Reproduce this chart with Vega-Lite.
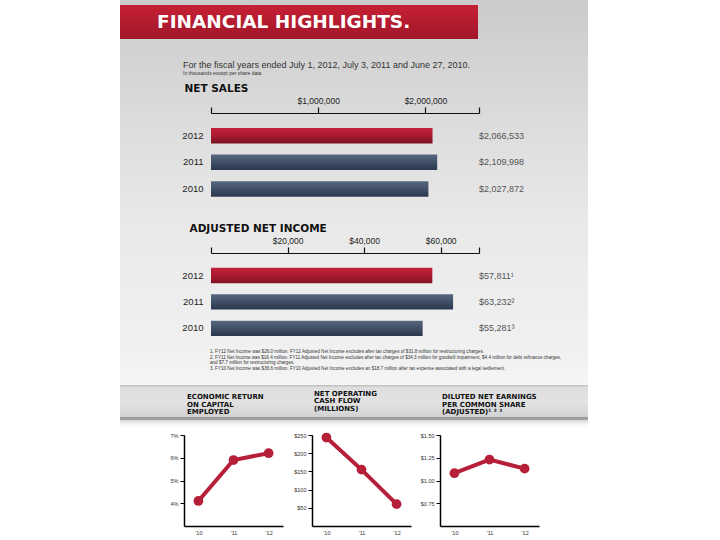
{
  "$schema": "https://vega.github.io/schema/vega-lite/v6.json",
  "background": "white",
  "padding": {"left": 120, "top": 0, "right": 132, "bottom": 4},
  "autosize": {"type": "pad"},
  "config": {
    "view": {"stroke": null},
    "font": "Liberation Sans",
    "axis": {"grid": false},
    "title": {"font": "Liberation Sans"}
  },
  "datasets": {
    "banner": [{"t": "FINANCIAL HIGHLIGHTS."}],
    "sales": [
      {"year": "2012", "value": 2066533},
      {"year": "2011", "value": 2109998},
      {"year": "2010", "value": 2027872}
    ],
    "income": [
      {"year": "2012", "value": 57811, "label": "$57,811¹"},
      {"year": "2011", "value": 63232, "label": "$63,232²"},
      {"year": "2010", "value": 55281, "label": "$55,281³"}
    ],
    "eroce": [
      {"year": "'10", "v": 4.1},
      {"year": "'11", "v": 5.9},
      {"year": "'12", "v": 6.2}
    ],
    "cash": [
      {"year": "'10", "v": 243},
      {"year": "'11", "v": 155},
      {"year": "'12", "v": 60}
    ],
    "eps": [
      {"year": "'10", "v": 1.08},
      {"year": "'11", "v": 1.23},
      {"year": "'12", "v": 1.13}
    ],
    "blank": [{"k": 1}]
  },
  "vconcat": [
    {
      "width": 468,
      "height": 79,
      "view": {"stroke": null, "fill": {"expr": "{gradient:'linear',x1:0,y1:0,x2:0,y2:1,stops:[{offset:0,color:'#cbcbcb'},{offset:1,color:'#d6d6d6'}]}"}},
      "data": {"name": "banner"},
      "title": {
        "text": "For the fiscal years ended July 1, 2012, July 3, 2011 and June 27, 2010.",
        "subtitle": "In thousands except per share data",
        "orient": "bottom",
        "anchor": "start",
        "frame": "group",
        "offset": -18,
        "dx": 63,
        "fontSize": 9,
        "fontWeight": "normal",
        "color": "#333333",
        "subtitleFont": "Liberation Sans",
        "subtitleFontSize": 5,
        "subtitleColor": "#333333",
        "subtitlePadding": 1
      },
      "layer": [
        {
          "mark": {"type": "rect", "color": {"gradient": "linear", "x1": 0, "y1": 0, "x2": 0, "y2": 1, "stops": [{"offset": 0, "color": "#c62034"}, {"offset": 1, "color": "#a1172a"}]}},
          "encoding": {
            "x": {"field": "t", "type": "nominal", "scale": {"range": [0, 358], "paddingInner": 0, "paddingOuter": 0}, "axis": null},
            "y": {"field": "t", "type": "nominal", "scale": {"range": [5, 39], "paddingInner": 0, "paddingOuter": 0}, "axis": null}
          }
        },
        {
          "mark": {"type": "text", "align": "left", "baseline": "middle", "dx": 37, "color": "white", "font": "DejaVu Sans", "fontSize": 18.5, "fontWeight": "bold"},
          "encoding": {
            "x": {"field": "t", "type": "nominal", "bandPosition": 0},
            "y": {"field": "t", "type": "nominal"},
            "text": {"field": "t"}
          }
        }
      ]
    },
    {
      "width": 468,
      "height": 133,
      "view": {"stroke": null, "fill": {"expr": "{gradient:'linear',x1:0,y1:0,x2:0,y2:1,stops:[{offset:0,color:'#d6d6d6'},{offset:1,color:'#e8e8e8'}]}"}},
      "data": {"name": "sales"},
      "layer": [
        {
          "transform": [{"filter": "datum.year == '2012'"}],
          "mark": {"type": "bar", "color": {"gradient": "linear", "x1": 0, "y1": 0, "x2": 0, "y2": 1, "stops": [{"offset": 0, "color": "#c4203a"}, {"offset": 0.5, "color": "#a81a30"}, {"offset": 1, "color": "#7c1222"}]}},
          "encoding": {
            "x": {
              "field": "value", "type": "quantitative",
              "scale": {"domain": [0, 2500000], "range": [91, 359], "nice": false},
              "axis": {
                "orient": "top", "offset": -34,
                "values": [0, 1000000, 2000000, 2500000],
                "labelExpr": "datum.value == 0 || datum.value == 2500000 ? '' : '$' + format(datum.value, ',')",
                "tickSize": 6, "tickColor": "#111111", "tickWidth": 1.2,
                "domainColor": "#111111", "domainWidth": 1.2,
                "labelFont": "Liberation Sans", "labelFontSize": 8.5, "labelColor": "#222222", "labelPadding": 2,
                "labelFlush": false, "labelOverlap": false,
                "title": "NET SALES", "titleX": 64, "titleY": -22, "titleAlign": "left", "titleBaseline": "alphabetic", "titleAngle": 0,
                "titleFont": "DejaVu Sans", "titleFontSize": 10.5, "titleFontWeight": "bold", "titleColor": "#111111"
              }
            },
            "y": {
              "field": "year", "type": "nominal",
              "scale": {"domain": ["2012", "2011", "2010"], "range": [43.3, 123.4], "paddingInner": 0.42, "paddingOuter": 0.21},
              "axis": {"orient": "left", "offset": -85, "ticks": false, "domain": false, "labelPadding": 2, "labelFont": "Liberation Sans", "labelFontSize": 9.5, "labelColor": "#222222", "title": null}
            }
          }
        },
        {
          "transform": [{"filter": "datum.year != '2012'"}],
          "mark": {"type": "bar", "color": {"gradient": "linear", "x1": 0, "y1": 0, "x2": 0, "y2": 1, "stops": [{"offset": 0, "color": "#56677f"}, {"offset": 1, "color": "#2a374d"}]}},
          "encoding": {
            "x": {"field": "value", "type": "quantitative"},
            "y": {"field": "year", "type": "nominal"}
          }
        },
        {
          "mark": {"type": "text", "align": "left", "baseline": "middle", "fontSize": 9, "color": "#555555"},
          "encoding": {
            "x": {"datum": 2500000, "type": "quantitative"},
            "y": {"field": "year", "type": "nominal"},
            "text": {"field": "value", "type": "quantitative", "format": "$,"}
          }
        }
      ]
    },
    {
      "width": 468,
      "height": 173,
      "view": {"stroke": null, "fill": {"expr": "{gradient:'linear',x1:0,y1:0,x2:0,y2:1,stops:[{offset:0,color:'#e8e8e8'},{offset:0.9,color:'#f2f2f2'},{offset:1,color:'#f6f6f6'}]}"}},
      "data": {"name": "income"},
      "title": {
        "text": [
          "1.    FY12 Net Income was $26.0 million. FY12 Adjusted Net Income excludes after tax charges of $31.8 million for restructuring charges.",
          "2.    FY11 Net Income was $16.4 million. FY11 Adjusted Net Income excludes after tax charges of $34.3 million for goodwill impairment, $4.4 million for debt refinance charges,",
          "       and $7.7 million for restructuring charges.",
          "3.    FY10 Net Income was $36.6 million. FY10 Adjusted Net Income excludes an $18.7 million after tax expense associated with a legal settlement."
        ],
        "orient": "bottom",
        "anchor": "start",
        "frame": "group",
        "offset": -36,
        "dx": 90,
        "fontSize": 4.6,
        "fontWeight": "normal",
        "color": "#333333",
        "lineHeight": 5.6
      },
      "layer": [
        {
          "transform": [{"filter": "datum.year == '2012'"}],
          "mark": {"type": "bar", "color": {"gradient": "linear", "x1": 0, "y1": 0, "x2": 0, "y2": 1, "stops": [{"offset": 0, "color": "#c4203a"}, {"offset": 0.5, "color": "#a81a30"}, {"offset": 1, "color": "#7c1222"}]}},
          "encoding": {
            "x": {
              "field": "value", "type": "quantitative",
              "scale": {"domain": [0, 70000], "range": [91, 359], "nice": false},
              "axis": {
                "orient": "top", "offset": -41,
                "values": [0, 20000, 40000, 60000, 70000],
                "labelExpr": "datum.value == 0 || datum.value == 70000 ? '' : '$' + format(datum.value, ',')",
                "tickSize": 6, "tickColor": "#111111", "tickWidth": 1.2,
                "domainColor": "#111111", "domainWidth": 1.2,
                "labelFont": "Liberation Sans", "labelFontSize": 8.5, "labelColor": "#222222", "labelPadding": 2,
                "labelFlush": false, "labelOverlap": false,
                "title": "ADJUSTED NET INCOME", "titleX": 69, "titleY": -22, "titleAlign": "left", "titleBaseline": "alphabetic", "titleAngle": 0,
                "titleFont": "DejaVu Sans", "titleFontSize": 10.5, "titleFontWeight": "bold", "titleColor": "#111111"
              }
            },
            "y": {
              "field": "year", "type": "nominal",
              "scale": {"domain": ["2012", "2011", "2010"], "range": [50.3, 129.5], "paddingInner": 0.42, "paddingOuter": 0.21},
              "axis": {"orient": "left", "offset": -85, "ticks": false, "domain": false, "labelPadding": 2, "labelFont": "Liberation Sans", "labelFontSize": 9.5, "labelColor": "#222222", "title": null}
            }
          }
        },
        {
          "transform": [{"filter": "datum.year != '2012'"}],
          "mark": {"type": "bar", "color": {"gradient": "linear", "x1": 0, "y1": 0, "x2": 0, "y2": 1, "stops": [{"offset": 0, "color": "#56677f"}, {"offset": 1, "color": "#2a374d"}]}},
          "encoding": {
            "x": {"field": "value", "type": "quantitative"},
            "y": {"field": "year", "type": "nominal"}
          }
        },
        {
          "mark": {"type": "text", "align": "left", "baseline": "middle", "fontSize": 9, "color": "#555555"},
          "encoding": {
            "x": {"datum": 70000, "type": "quantitative"},
            "y": {"field": "year", "type": "nominal"},
            "text": {"field": "label"}
          }
        }
      ]
    },
    {
      "width": 468,
      "height": 50,
      "view": {"stroke": null, "fill": {"expr": "{gradient:'linear',x1:0,y1:0,x2:0,y2:1,stops:[{offset:0,color:'#bdbdbd'},{offset:0.05,color:'#dedede'},{offset:0.35,color:'#e2e2e2'},{offset:0.63,color:'#d2d2d2'},{offset:0.64,color:'#9a9a9a'},{offset:0.7,color:'#a4a4a4'},{offset:0.71,color:'#dadada'},{offset:0.78,color:'#f4f4f4'},{offset:0.86,color:'#ffffff'},{offset:1,color:'#ffffff'}]}"}},
      "data": {"name": "blank"},
      "mark": {"type": "text"},
      "encoding": {"text": {"value": ""}}
    },
    {
      "hconcat": [
        {
          "width": 35,
          "height": 91,
          "data": {"name": "blank"},
          "mark": {"type": "text"},
          "encoding": {"text": {"value": ""}}
        },
        {
          "width": 99,
          "height": 91,
          "data": {"name": "eroce"},
          "title": {"text": ["ECONOMIC RETURN", "ON CAPITAL", "EMPLOYED"], "anchor": "start", "frame": "group", "offset": 18, "dx": 3, "font": "DejaVu Sans", "fontSize": 7, "fontWeight": "bold", "color": "#111111", "lineHeight": 7.5},
          "mark": {"type": "line", "color": "#b51f38", "strokeWidth": 4, "point": {"filled": true, "size": 95, "color": "#b51f38"}},
          "encoding": {
            "x": {"field": "year", "type": "ordinal", "scale": {"type": "point", "padding": 0.41}, "axis": {"title": null, "ticks": false, "labelAngle": 0, "domainColor": "#000000", "domainWidth": 1.5, "labelFontSize": 5.5, "labelColor": "#333333", "labelPadding": 4}},
            "y": {"field": "v", "type": "quantitative", "scale": {"domain": [3, 7], "zero": false, "nice": false}, "axis": {"title": null, "values": [4, 5, 6, 7], "labelExpr": "datum.value + '%'", "tickSize": 4, "tickColor": "#000000", "domainColor": "#000000", "domainWidth": 1.5, "labelFontSize": 5.5, "labelColor": "#333333", "labelPadding": 2}}
          }
        },
        {
          "width": 99,
          "height": 91,
          "data": {"name": "cash"},
          "title": {"text": ["NET OPERATING", "CASH FLOW", "(MILLIONS)"], "anchor": "start", "frame": "group", "offset": 18, "dx": 2, "font": "DejaVu Sans", "fontSize": 7, "fontWeight": "bold", "color": "#111111", "lineHeight": 7.5},
          "mark": {"type": "line", "color": "#b51f38", "strokeWidth": 4, "point": {"filled": true, "size": 95, "color": "#b51f38"}},
          "encoding": {
            "x": {"field": "year", "type": "ordinal", "scale": {"type": "point", "padding": 0.41}, "axis": {"title": null, "ticks": false, "labelAngle": 0, "domainColor": "#000000", "domainWidth": 1.5, "labelFontSize": 5.5, "labelColor": "#333333", "labelPadding": 4}},
            "y": {"field": "v", "type": "quantitative", "scale": {"domain": [0, 250], "nice": false}, "axis": {"title": null, "values": [50, 100, 150, 200, 250], "labelExpr": "'$' + datum.value", "tickSize": 4, "tickColor": "#000000", "domainColor": "#000000", "domainWidth": 1.5, "labelFontSize": 5.5, "labelColor": "#333333", "labelPadding": 2}}
          }
        },
        {
          "width": 99,
          "height": 91,
          "data": {"name": "eps"},
          "title": {"text": ["DILUTED NET EARNINGS", "PER COMMON SHARE", "(ADJUSTED)¹ ² ³"], "anchor": "start", "frame": "group", "offset": 18, "dx": 2, "font": "DejaVu Sans", "fontSize": 7, "fontWeight": "bold", "color": "#111111", "lineHeight": 7.5},
          "mark": {"type": "line", "color": "#b51f38", "strokeWidth": 4, "point": {"filled": true, "size": 95, "color": "#b51f38"}},
          "encoding": {
            "x": {"field": "year", "type": "ordinal", "scale": {"type": "point", "padding": 0.41}, "axis": {"title": null, "ticks": false, "labelAngle": 0, "domainColor": "#000000", "domainWidth": 1.5, "labelFontSize": 5.5, "labelColor": "#333333", "labelPadding": 4}},
            "y": {"field": "v", "type": "quantitative", "scale": {"domain": [0.5, 1.5], "zero": false, "nice": false}, "axis": {"title": null, "values": [0.75, 1, 1.25, 1.5], "labelExpr": "'$' + format(datum.value, '.2f')", "tickSize": 4, "tickColor": "#000000", "domainColor": "#000000", "domainWidth": 1.5, "labelFontSize": 5.5, "labelColor": "#333333", "labelPadding": 2}}
          }
        }
      ],
      "spacing": 29,
      "bounds": "flush"
    }
  ],
  "spacing": 0,
  "bounds": "flush"
}
